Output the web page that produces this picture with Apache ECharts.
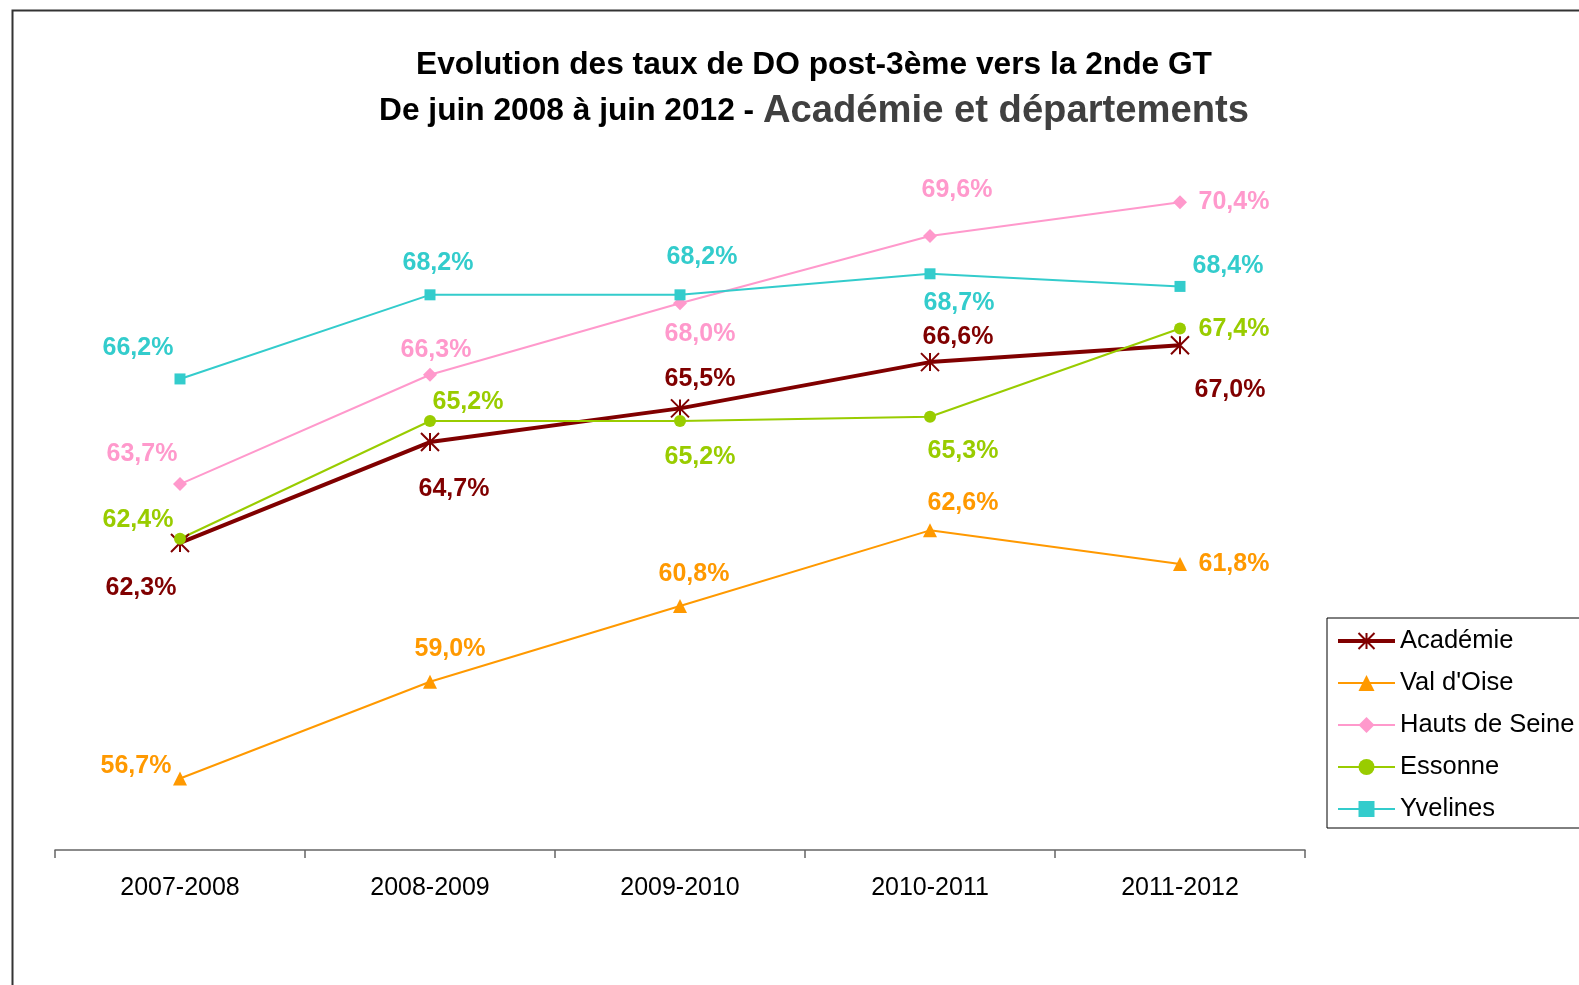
<!DOCTYPE html>
<html>
<head>
<meta charset="utf-8">
<script src="https://cdn.jsdelivr.net/npm/echarts@6/dist/echarts.min.js"></script>
<style>
html, body { margin: 0; padding: 0; background: #fff; }
#chart { width: 1579px; height: 985px; }
</style>
</head>
<body>
<div id="chart"></div>
<script>
var categories = ['2007-2008', '2008-2009', '2009-2010', '2010-2011', '2011-2012'];
var seriesNames = ['Académie', "Val d'Oise", 'Hauts de Seine', 'Essonne', 'Yvelines'];

var academie = [62.3, 64.7, 65.5, 66.6, 67.0];
var valDOise = [56.7, 59.0, 60.8, 62.6, 61.8];
var hautsDeSeine = [63.7, 66.3, 68.0, 69.6, 70.4];
var essonne = [62.4, 65.2, 65.2, 65.3, 67.4];
var yvelines = [66.2, 68.2, 68.2, 68.7, 68.4];

// décalage des étiquettes par point (comme dans le graphique Excel)
var offAcademie = [[-39, 45], [24, 47], [20, -29], [28, -25], [50, 45]];
var offValDOise = [[-44, -12], [20, -33], [14, -32], [33, -27], [54, 0]];
var offHauts = [[-38, -30], [6, -25], [20, 31], [27, -46], [54, 0]];
var offEssonne = [[-42, -19], [38, -19], [20, 36], [33, 34], [54, 1]];
var offYvelines = [[-42, -31], [8, -32], [22, -38], [29, 29], [48, -20]];

var chart = echarts.init(document.getElementById('chart'));
var FONT = 'Liberation Sans, Arial, sans-serif';

function fmt(v) {
	return v.toFixed(1).replace('.', ',') + '%';
}

function makeData(values, offsets) {
	return values.map(function (v, i) {
		return {
			value: v,
			label: { offset: offsets[i] }
		};
	});
}

function makeSeries(name, values, offsets, color, symbol, size, width) {
	return {
		name: name,
		type: 'line',
		data: makeData(values, offsets),
		symbol: symbol,
		symbolSize: size,
		showAllSymbol: true,
		lineStyle: { color: color, width: width },
		itemStyle: { color: color, borderColor: color, borderWidth: symbol.indexOf('path') === 0 ? 2 : 0 },
		label: {
			show: true,
			position: 'inside',
			color: color,
			fontSize: 25,
			fontWeight: 'bold',
			fontFamily: FONT,
			formatter: function (p) { return fmt(p.value); }
		},
		emphasis: { disabled: true },
		animation: false
	};
}

var starPath = 'path://M0,0 L20,20 M20,0 L0,20 M10,0 L10,20';

var option = {
	backgroundColor: '#fff',
	title: {
		left: 814,
		textAlign: 'center',
		top: 42,
		padding: 0,
		text: '{a|Evolution des taux de DO post-3ème vers la 2nde GT}\n{b|De juin 2008 à juin 2012 - }{c|Académie et départements}',
		textStyle: {
			rich: {
				a: { fontSize: 31.7, fontWeight: 'bold', color: '#000', lineHeight: 46, fontFamily: FONT },
				b: { fontSize: 31.7, fontWeight: 'bold', color: '#000', lineHeight: 46, fontFamily: FONT },
				c: { fontSize: 38.2, fontWeight: 'bold', color: '#404040', lineHeight: 46, fontFamily: FONT }
			}
		}
	},
	legend: {
		orient: 'vertical',
		left: 1327,
		top: 618,
		padding: [10, 40, 6, 9],
		itemWidth: 57,
		itemHeight: 20,
		itemGap: 16,
		borderColor: '#000',
		borderWidth: 1,
		data: [
			{ name: 'Académie', lineStyle: { width: 4 } },
			{ name: "Val d'Oise" },
			{ name: 'Hauts de Seine' },
			{ name: 'Essonne' },
			{ name: 'Yvelines' }
		],
		textStyle: { fontSize: 25.5, lineHeight: 26, color: '#000', fontFamily: FONT }
	},
	grid: {
		left: 55,
		right: 274,
		top: 135,
		bottom: 135,
		containLabel: false
	},
	xAxis: {
		type: 'category',
		data: categories,
		boundaryGap: true,
		axisLine: { lineStyle: { color: '#666', width: 1.5 } },
		axisTick: { show: true, length: 8, lineStyle: { color: '#666', width: 1.5 } },
		axisLabel: { color: '#000', fontSize: 25, margin: 26, fontFamily: FONT },
		splitLine: { show: false }
	},
	yAxis: {
		type: 'value',
		min: 55,
		max: 72,
		show: false,
		splitLine: { show: false }
	},
	graphic: [{
		type: 'rect',
		left: 10,
		top: 8,
		shape: { width: 1700, height: 1100 },
		style: { fill: 'none', stroke: '#333', lineWidth: 2 },
		silent: true,
		z: -10
	}],
	series: [
		makeSeries('Académie', academie, offAcademie, '#800000', starPath, 18, 4),
		makeSeries("Val d'Oise", valDOise, offValDOise, '#ff9900', 'triangle', 14, 2),
		makeSeries('Hauts de Seine', hautsDeSeine, offHauts, '#ff99cc', 'diamond', 14, 2),
		makeSeries('Essonne', essonne, offEssonne, '#99cc00', 'circle', 12, 2),
		makeSeries('Yvelines', yvelines, offYvelines, '#33cccc', 'rect', 11, 2)
	]
};

chart.setOption(option);
</script>
</body>
</html>
